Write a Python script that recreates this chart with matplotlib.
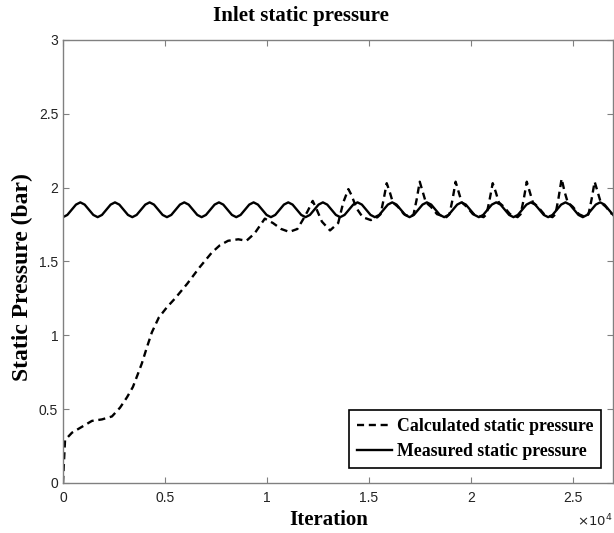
import numpy as np
import matplotlib
matplotlib.use('Agg')
import matplotlib.pyplot as plt

# calculated static pressure
calc_x = [0, 50, 100, 440, 930, 1420, 1910, 2400, 2800, 3140, 3430, 3680, 3870, 4120,
          4360, 4700, 5100, 5500, 6100, 6700, 7300, 7700, 8100, 8600, 9000, 9400, 9900,
          10300, 10700, 11100, 11500, 11800, 12000, 12250, 12450, 12700, 13100, 13500,
          13750, 14000, 14150, 14400, 14700, 15100,
          15430, 15580, 15730, 15880, 16030, 16180, 16430, 16730,
          17050, 17200, 17350, 17500, 17650, 17800, 18050, 18350,
          18810, 18960, 19110, 19260, 19410, 19560, 19810, 20110,
          20630, 20780, 20930, 21080, 21230, 21380, 21630, 21930,
          22300, 22450, 22600, 22750, 22900, 23050, 23300, 23600,
          24010, 24160, 24310, 24460, 24610, 24760, 25010, 25310,
          25630, 25780, 25930, 26080, 26230, 26380, 26630, 26930]
calc_y = [0.0, 0.15, 0.29, 0.34, 0.38, 0.42, 0.43, 0.45, 0.51, 0.58, 0.65, 0.74, 0.81, 0.92,
          1.02, 1.12, 1.19, 1.25, 1.35, 1.46, 1.56, 1.61, 1.64, 1.65, 1.64, 1.69, 1.79,
          1.76, 1.72, 1.70, 1.72, 1.79, 1.84, 1.91, 1.85, 1.77, 1.71, 1.76,
          1.90, 1.99, 1.95, 1.86, 1.80, 1.78,
          1.80, 1.82, 1.92, 2.03, 1.97, 1.90, 1.87, 1.82,
          1.80, 1.82, 1.92, 2.04, 1.97, 1.90, 1.87, 1.82,
          1.80, 1.82, 1.92, 2.04, 1.97, 1.90, 1.87, 1.82,
          1.80, 1.82, 1.92, 2.03, 1.97, 1.90, 1.87, 1.82,
          1.80, 1.82, 1.92, 2.04, 1.97, 1.90, 1.87, 1.82,
          1.80, 1.82, 1.93, 2.06, 1.97, 1.90, 1.87, 1.82,
          1.80, 1.82, 1.92, 2.04, 1.97, 1.90, 1.87, 1.82]

# measured static pressure, sampled every 212.5 iterations
meas_step = 212.5
meas_y = [1.800, 1.815, 1.850, 1.885, 1.900, 1.885, 1.850, 1.815,
          1.800, 1.815, 1.850, 1.885, 1.900, 1.885, 1.850, 1.815,
          1.800, 1.815, 1.850, 1.885, 1.900, 1.885, 1.850, 1.815,
          1.800, 1.815, 1.850, 1.885, 1.900, 1.885, 1.850, 1.815,
          1.800, 1.815, 1.850, 1.885, 1.900, 1.885, 1.850, 1.815,
          1.800, 1.815, 1.850, 1.885, 1.900, 1.885, 1.850, 1.815,
          1.800, 1.815, 1.850, 1.885, 1.900, 1.885, 1.850, 1.815,
          1.800, 1.815, 1.850, 1.885, 1.900, 1.885, 1.850, 1.815,
          1.800, 1.815, 1.850, 1.885, 1.900, 1.885, 1.850, 1.815,
          1.800, 1.815, 1.850, 1.885, 1.900, 1.885, 1.850, 1.815,
          1.800, 1.815, 1.850, 1.885, 1.900, 1.885, 1.850, 1.815,
          1.800, 1.815, 1.850, 1.885, 1.900, 1.885, 1.850, 1.815,
          1.800, 1.815, 1.850, 1.885, 1.900, 1.885, 1.850, 1.815,
          1.800, 1.815, 1.850, 1.885, 1.900, 1.885, 1.850, 1.815,
          1.800, 1.815, 1.850, 1.885, 1.900, 1.885, 1.850, 1.815,
          1.800, 1.815, 1.850, 1.885, 1.900, 1.885, 1.850, 1.815]
meas_x = np.arange(len(meas_y)) * meas_step

x_ticks = [0, 5000, 10000, 15000, 20000, 25000]
x_labels = ['0', '0.5', '1', '1.5', '2', '2.5']
y_ticks = [0, 0.5, 1, 1.5, 2, 2.5, 3]
y_labels = ['0', '0.5', '1', '1.5', '2', '2.5', '3']

serif = ['Liberation Serif', 'DejaVu Serif']
sans = ['Liberation Sans', 'DejaVu Sans']

fig = plt.figure(figsize=(6.14, 5.33), dpi=100)
ax = fig.add_axes([0.1026, 0.094, 0.8964, 0.831])

ax.plot(calc_x, calc_y, color='black', lw=1.7, linestyle=(0, (3, 2)),
        label='Calculated static pressure')
ax.plot(meas_x, meas_y, color='black', lw=1.7, label='Measured static pressure')

ax.set_xlim(0, 27000)
ax.set_ylim(0, 3)
ax.set_xticks(x_ticks)
ax.set_xticklabels(x_labels, family=sans, fontsize=10, color='#222222')
ax.set_yticks(y_ticks)
ax.set_yticklabels(y_labels, family=sans, fontsize=10, color='#222222')
ax.tick_params(axis='x', pad=6)
ax.tick_params(direction='in', top=True, right=True, length=4, color='#808080')
for s in ax.spines.values():
    s.set_color('#808080')
    s.set_linewidth(1.0)

fig.text(301 / 614, 1 - 16 / 533, 'Inlet static pressure', family=serif,
         fontweight='bold', fontsize=15, ha='center', va='center')
ax.set_xlabel('Iteration', family=serif, fontweight='bold', fontsize=15)
ax.xaxis.set_label_coords(0.482, -0.062)
ax.xaxis.label.set_va('top')
fig.text(22 / 614, 1 - 277 / 533, 'Static Pressure (bar)', family=serif,
         fontweight='bold', fontsize=17, rotation=90, ha='center', va='center')
fig.text(0.998, 1 - 521 / 533, r'$\times10^4$', fontsize=9.5,
         color='#222222', ha='right', va='center')

leg = ax.legend(loc='lower right', bbox_to_anchor=(0.978, 0.034), fancybox=False,
                framealpha=1, edgecolor='black', handlelength=2.0,
                prop={'family': serif, 'weight': 'bold', 'size': 12.8},
                borderpad=0.45, labelspacing=0.45, handletextpad=0.25,
                borderaxespad=0)
leg.get_frame().set_linewidth(1.2)

fig.savefig('out.png', dpi=100)
